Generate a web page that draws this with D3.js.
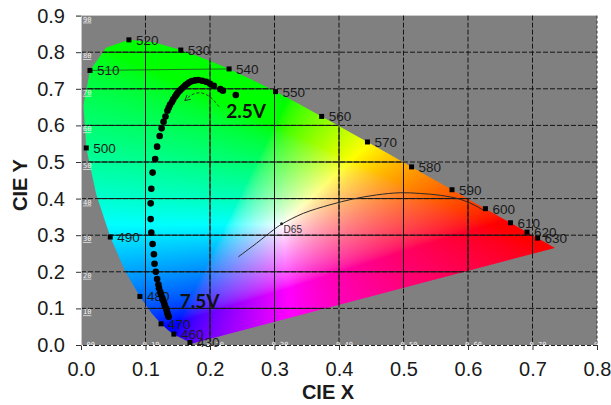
<!DOCTYPE html>
<html>
<head>
<meta charset="utf-8">
<script src="https://cdn.jsdelivr.net/npm/d3@7"></script>
<style>
  body { margin: 0; background: #fff; }
  svg { display: block; }
</style>
</head>
<body>
<svg id="chart" width="611" height="405"></svg>
<script>
// CIE 1931 spectral locus (chromaticity x, y), 380 - 700 nm
var locusNm = [380,385,390,395,400,405,410,415,420,425,430,435,440,445,450,455,460,465,470,475,480,485,490,495,500,505,510,515,520,525,530,535,540,545,550,555,560,565,570,575,580,585,590,595,600,605,610,615,620,625,630,635,640,645,650,660,680,700];
var locusX = [0.1741,0.1740,0.1738,0.1736,0.1733,0.1730,0.1726,0.1721,0.1714,0.1703,0.1689,0.1669,0.1644,0.1611,0.1566,0.1510,0.1440,0.1355,0.1241,0.1096,0.0913,0.0687,0.0454,0.0235,0.0082,0.0039,0.0139,0.0389,0.0743,0.1142,0.1547,0.1929,0.2296,0.2658,0.3016,0.3373,0.3731,0.4087,0.4441,0.4788,0.5125,0.5448,0.5752,0.6029,0.6270,0.6482,0.6658,0.6801,0.6915,0.7006,0.7079,0.7140,0.7190,0.7230,0.7260,0.7300,0.7334,0.7347];
var locusY = [0.0050,0.0050,0.0049,0.0049,0.0048,0.0048,0.0048,0.0048,0.0051,0.0058,0.0069,0.0086,0.0109,0.0138,0.0177,0.0227,0.0297,0.0399,0.0578,0.0868,0.1327,0.2007,0.2950,0.4127,0.5384,0.6548,0.7502,0.8120,0.8338,0.8262,0.8059,0.7816,0.7543,0.7243,0.6923,0.6589,0.6245,0.5896,0.5547,0.5202,0.4866,0.4544,0.4242,0.3965,0.3725,0.3514,0.3340,0.3197,0.3083,0.2993,0.2920,0.2859,0.2809,0.2770,0.2740,0.2700,0.2666,0.2653];

// wavelengths that carry a square marker and a label
var markerNm = [430,460,470,480,490,500,510,520,530,540,550,560,570,580,590,600,610,620,630];

// colour coordinates of the sweep, 2.5 V (first) to 7.5 V (last)
var sweepX = [0.240,0.220,0.216,0.206,0.200,0.194,0.188,0.182,0.177,0.172,0.168,0.165,0.162,0.159,0.156,0.153,0.150,0.148,0.146,0.143,0.141,0.138,0.136,0.134,0.131,0.128,0.125,0.122,0.118,0.115,0.111,0.109,0.108,0.108,0.109,0.111,0.113,0.114,0.116,0.118,0.120,0.121,0.123,0.124,0.126,0.127,0.129,0.130,0.132,0.133,0.134,0.135,0.136];
var sweepY = [0.683,0.695,0.699,0.708,0.714,0.719,0.722,0.724,0.723,0.721,0.718,0.714,0.710,0.705,0.700,0.695,0.689,0.684,0.679,0.671,0.664,0.656,0.648,0.640,0.624,0.610,0.592,0.571,0.542,0.508,0.471,0.427,0.387,0.344,0.307,0.276,0.248,0.222,0.200,0.180,0.165,0.155,0.145,0.137,0.129,0.122,0.114,0.107,0.100,0.093,0.087,0.081,0.077];

// black body curve drawn on the diagram
var planckX = [0.244,0.272,0.298,0.311,0.345,0.386,0.422,0.458,0.495,0.526,0.557,0.588,0.610,0.624];
var planckY = [0.241,0.278,0.314,0.330,0.360,0.383,0.399,0.410,0.416,0.414,0.409,0.398,0.382,0.368];
var d65 = [0.311, 0.331];

// dashed arrow under the 2.5V label
var arrowX = [0.214,0.200,0.186,0.172,0.161];
var arrowY = [0.651,0.678,0.689,0.684,0.668];

var xTicks = [0,0.1,0.2,0.3,0.4,0.5,0.6,0.7,0.8];
var xTickLabels = ["0.0","0.1","0.2","0.3","0.4","0.5","0.6","0.7","0.8"];
var yTicks = [0,0.1,0.2,0.3,0.4,0.5,0.6,0.7,0.8,0.9];
var yTickLabels = ["0.0","0.1","0.2","0.3","0.4","0.5","0.6","0.7","0.8","0.9"];
// tiny labels printed inside the background picture
var innerYLabels = ["00","10","20","30","40","50","60","70","80","90"];
var innerXLabels = ["0.00","0.10","0.20","0.30","0.40","0.50","0.60","0.70","0"];

var svg = d3.select("#chart");
var pLeft = 81, pRight = 597, pTop = 15.6, pBottom = 345;

var x = d3.scaleLinear().domain([0, 0.8]).range([pLeft, pRight]);
var y = d3.scaleLinear().domain([0, 0.9]).range([pBottom, pTop]);

var defs = svg.append("defs");
defs.append("clipPath").attr("id", "plotClip")
    .append("rect").attr("x", pLeft).attr("y", pTop)
    .attr("width", pRight - pLeft).attr("height", pBottom - pTop);

var locusPts = locusX.map(function(v, i) { return [x(v), y(locusY[i])]; });
defs.append("clipPath").attr("id", "gamutClip")
    .append("path").attr("d", "M" + locusPts.join("L") + "Z");

// grey background of the plot
svg.append("rect")
    .attr("x", pLeft).attr("y", pTop)
    .attr("width", pRight - pLeft).attr("height", pBottom - pTop)
    .attr("fill", "#808080");

/*
   colour the horseshoe: xy -> XYZ -> linear sRGB, clip, scale to max,
   a little extra saturation, then gamma
*/
function gam(c) {
    c = Math.pow(c, 1.3);
    return c <= 0.0031308 ? 12.92 * c : 1.055 * Math.pow(c, 1 / 2.4) - 0.055;
}
function xyToRgb(cx, cy) {
    if (cy < 0.002) cy = 0.002;
    var X = cx / cy, Y = 1, Z = (1 - cx - cy) / cy;
    var r = 3.2406 * X - 1.5372 * Y - 0.4986 * Z;
    var g = -0.9689 * X + 1.8758 * Y + 0.0415 * Z;
    var b = 0.0557 * X - 0.2040 * Y + 1.0570 * Z;
    r = Math.max(r, 0); g = Math.max(g, 0); b = Math.max(b, 0);
    var m = Math.max(r, g, b) || 1;
    return [gam(r / m) * 255, gam(g / m) * 255, gam(b / m) * 255];
}

var k = 2;
var cw = Math.round((pRight - pLeft) * k), ch = Math.round((pBottom - pTop) * k);
var cv = document.createElement("canvas");
cv.width = cw; cv.height = ch;
var ctx = cv.getContext("2d");
var img = ctx.createImageData(cw, ch);
for (var j = 0; j < ch; j++) {
    var cy = y.invert(pTop + (j + 0.5) / k);
    for (var i = 0; i < cw; i++) {
        var cx = x.invert(pLeft + (i + 0.5) / k);
        var c = xyToRgb(cx, cy);
        var o = (j * cw + i) * 4;
        img.data[o] = c[0]; img.data[o + 1] = c[1]; img.data[o + 2] = c[2]; img.data[o + 3] = 255;
    }
}
ctx.putImageData(img, 0, 0);

svg.append("image")
    .attr("x", pLeft).attr("y", pTop)
    .attr("width", pRight - pLeft).attr("height", pBottom - pTop)
    .attr("preserveAspectRatio", "none")
    .attr("href", cv.toDataURL())
    .attr("clip-path", "url(#gamutClip)");

// grid: dashed over the grey, solid across the coloured part
function drawGrid(g, dash) {
    g.selectAll(".hl").data(yTicks.slice(1, 9)).enter().append("line")
        .attr("x1", pLeft).attr("x2", pRight)
        .attr("y1", function(d) { return y(d); }).attr("y2", function(d) { return y(d); });
    g.selectAll(".vl").data(xTicks.slice(1, 8)).enter().append("line")
        .attr("y1", pTop).attr("y2", pBottom)
        .attr("x1", function(d) { return x(d); }).attr("x2", function(d) { return x(d); });
    g.attr("stroke", "#151515").attr("stroke-width", 1).attr("stroke-dasharray", dash);
}
drawGrid(svg.append("g"), "5,2");
drawGrid(svg.append("g").attr("clip-path", "url(#gamutClip)"), null);

// right border
svg.append("line")
    .attr("x1", pRight).attr("x2", pRight).attr("y1", pTop).attr("y2", pBottom)
    .attr("stroke", "#333").attr("stroke-dasharray", "3,2");

// tiny labels of the background picture
var tiny = svg.append("g").attr("clip-path", "url(#plotClip)")
    .style("font-family", "'DejaVu Sans Mono', monospace")
    .style("font-size", "7px")
    .attr("fill", "#f2f2f2");
tiny.selectAll(".ty").data(innerYLabels.slice(1)).enter().append("text")
    .attr("x", pLeft + 2)
    .attr("y", function(d, i) { return y(yTicks[i + 1]) + 6; })
    .attr("text-decoration", "underline")
    .text(function(d) { return d; });
tiny.selectAll(".tx").data(innerXLabels).enter().append("text")
    .attr("x", function(d, i) { return x(xTicks[i]) - 3; })
    .attr("y", pBottom + 2)
    .attr("text-decoration", "underline")
    .text(function(d) { return d; });

// black body curve and D65
var line = d3.line()
    .x(function(d) { return x(d[0]); })
    .y(function(d) { return y(d[1]); })
    .curve(d3.curveCatmullRom);

svg.append("path")
    .datum(planckX.map(function(v, i) { return [v, planckY[i]]; }))
    .attr("d", line)
    .attr("fill", "none").attr("stroke", "#2a2a2a").attr("stroke-width", 1);

svg.append("circle")
    .attr("cx", x(d65[0])).attr("cy", y(d65[1])).attr("r", 1.5).attr("fill", "#222");
svg.append("text")
    .attr("x", x(d65[0]) + 2).attr("y", y(d65[1]) + 9)
    .style("font-family", "'Liberation Sans', Arial, sans-serif")
    .style("font-size", "10px").attr("fill", "#333")
    .text("D65");

// thin line running from 510 to 540
var i510 = locusNm.indexOf(510), i540 = locusNm.indexOf(540);
svg.append("line")
    .attr("x1", x(locusX[i510])).attr("y1", y(locusY[i510]))
    .attr("x2", x(locusX[i540])).attr("y2", y(locusY[i540]))
    .attr("stroke", "#2a3a2a").attr("stroke-width", 0.9).attr("opacity", 0.8);

// wavelength markers
var marks = svg.append("g");
markerNm.forEach(function(nm) {
    var idx = locusNm.indexOf(nm);
    var px = x(locusX[idx]), py = y(locusY[idx]);
    marks.append("rect")
        .attr("x", px - 2.5).attr("y", py - 2.5)
        .attr("width", 5).attr("height", 5)
        .attr("fill", "#000");
    marks.append("text")
        .attr("x", px + 7).attr("y", py + 5)
        .style("font-family", "'Liberation Sans', Arial, sans-serif")
        .style("font-size", "13.5px")
        .attr("fill", "#1a1a1a")
        .text(nm);
});

// sweep points
svg.append("g").selectAll("circle")
    .data(sweepX.map(function(v, i) { return [v, sweepY[i]]; }))
    .enter().append("circle")
    .attr("cx", function(d) { return x(d[0]); })
    .attr("cy", function(d) { return y(d[1]); })
    .attr("r", 3.3)
    .attr("fill", "#000");

// dashed arrow
var arrowPts = arrowX.map(function(v, i) { return [v, arrowY[i]]; });
svg.append("path")
    .datum(arrowPts)
    .attr("d", line)
    .attr("fill", "none").attr("stroke", "#2a2a2a")
    .attr("stroke-width", 0.9).attr("stroke-dasharray", "3,2");
var aEnd = arrowPts[arrowPts.length - 1], aPrev = arrowPts[arrowPts.length - 2];
var ang = Math.atan2(y(aEnd[1]) - y(aPrev[1]), x(aEnd[0]) - x(aPrev[0]));
var ax = x(aEnd[0]), ay = y(aEnd[1]);
svg.append("path")
    .attr("d", "M" + (ax - 6 * Math.cos(ang - 0.5)) + "," + (ay - 6 * Math.sin(ang - 0.5)) +
               "L" + ax + "," + ay +
               "L" + (ax - 6 * Math.cos(ang + 0.5)) + "," + (ay - 6 * Math.sin(ang + 0.5)))
    .attr("fill", "none").attr("stroke", "#2a2a2a").attr("stroke-width", 0.9);

// voltage labels
svg.append("text")
    .attr("x", x(0.225)).attr("y", y(0.62))
    .style("font-family", "Lato, 'Open Sans', sans-serif")
    .style("font-weight", "bold").style("font-size", "19px")
    .attr("fill", "#111").text("2.5V");
svg.append("text")
    .attr("x", x(0.153)).attr("y", y(0.101))
    .style("font-family", "Lato, 'Open Sans', sans-serif")
    .style("font-weight", "bold").style("font-size", "19px")
    .attr("fill", "#111").text("7.5V");

// axes
var xAxis = svg.append("g")
    .attr("transform", "translate(0," + pBottom + ")")
    .call(d3.axisBottom(x).tickValues(xTicks)
        .tickFormat(function(d, i) { return xTickLabels[i]; })
        .tickSize(5).tickPadding(12));
xAxis.select(".domain").attr("stroke", "#222").attr("stroke-dasharray", "4,2");

var yAxis = svg.append("g")
    .attr("transform", "translate(" + pLeft + ",0)")
    .call(d3.axisLeft(y).tickValues(yTicks)
        .tickFormat(function(d, i) { return yTickLabels[i]; })
        .tickSize(5).tickPadding(11));
yAxis.select(".domain").attr("stroke", "#c8c8c8");

[xAxis, yAxis].forEach(function(a) {
    a.selectAll(".tick line").attr("stroke", "#333");
    a.selectAll("text")
        .style("font-family", "'Liberation Sans', Arial, sans-serif")
        .style("font-size", "20px")
        .attr("fill", "#1a1a1a");
});

// axis titles
svg.append("text")
    .attr("x", 328).attr("y", 399)
    .attr("text-anchor", "middle")
    .style("font-family", "'Liberation Sans', Arial, sans-serif")
    .style("font-weight", "bold").style("font-size", "20px")
    .attr("fill", "#1a1a1a")
    .text("CIE X");
svg.append("text")
    .attr("transform", "translate(27,185) rotate(-90)")
    .attr("text-anchor", "middle")
    .style("font-family", "'Liberation Sans', Arial, sans-serif")
    .style("font-weight", "bold").style("font-size", "20px")
    .attr("fill", "#1a1a1a")
    .text("CIE Y");
</script>
</body>
</html>
